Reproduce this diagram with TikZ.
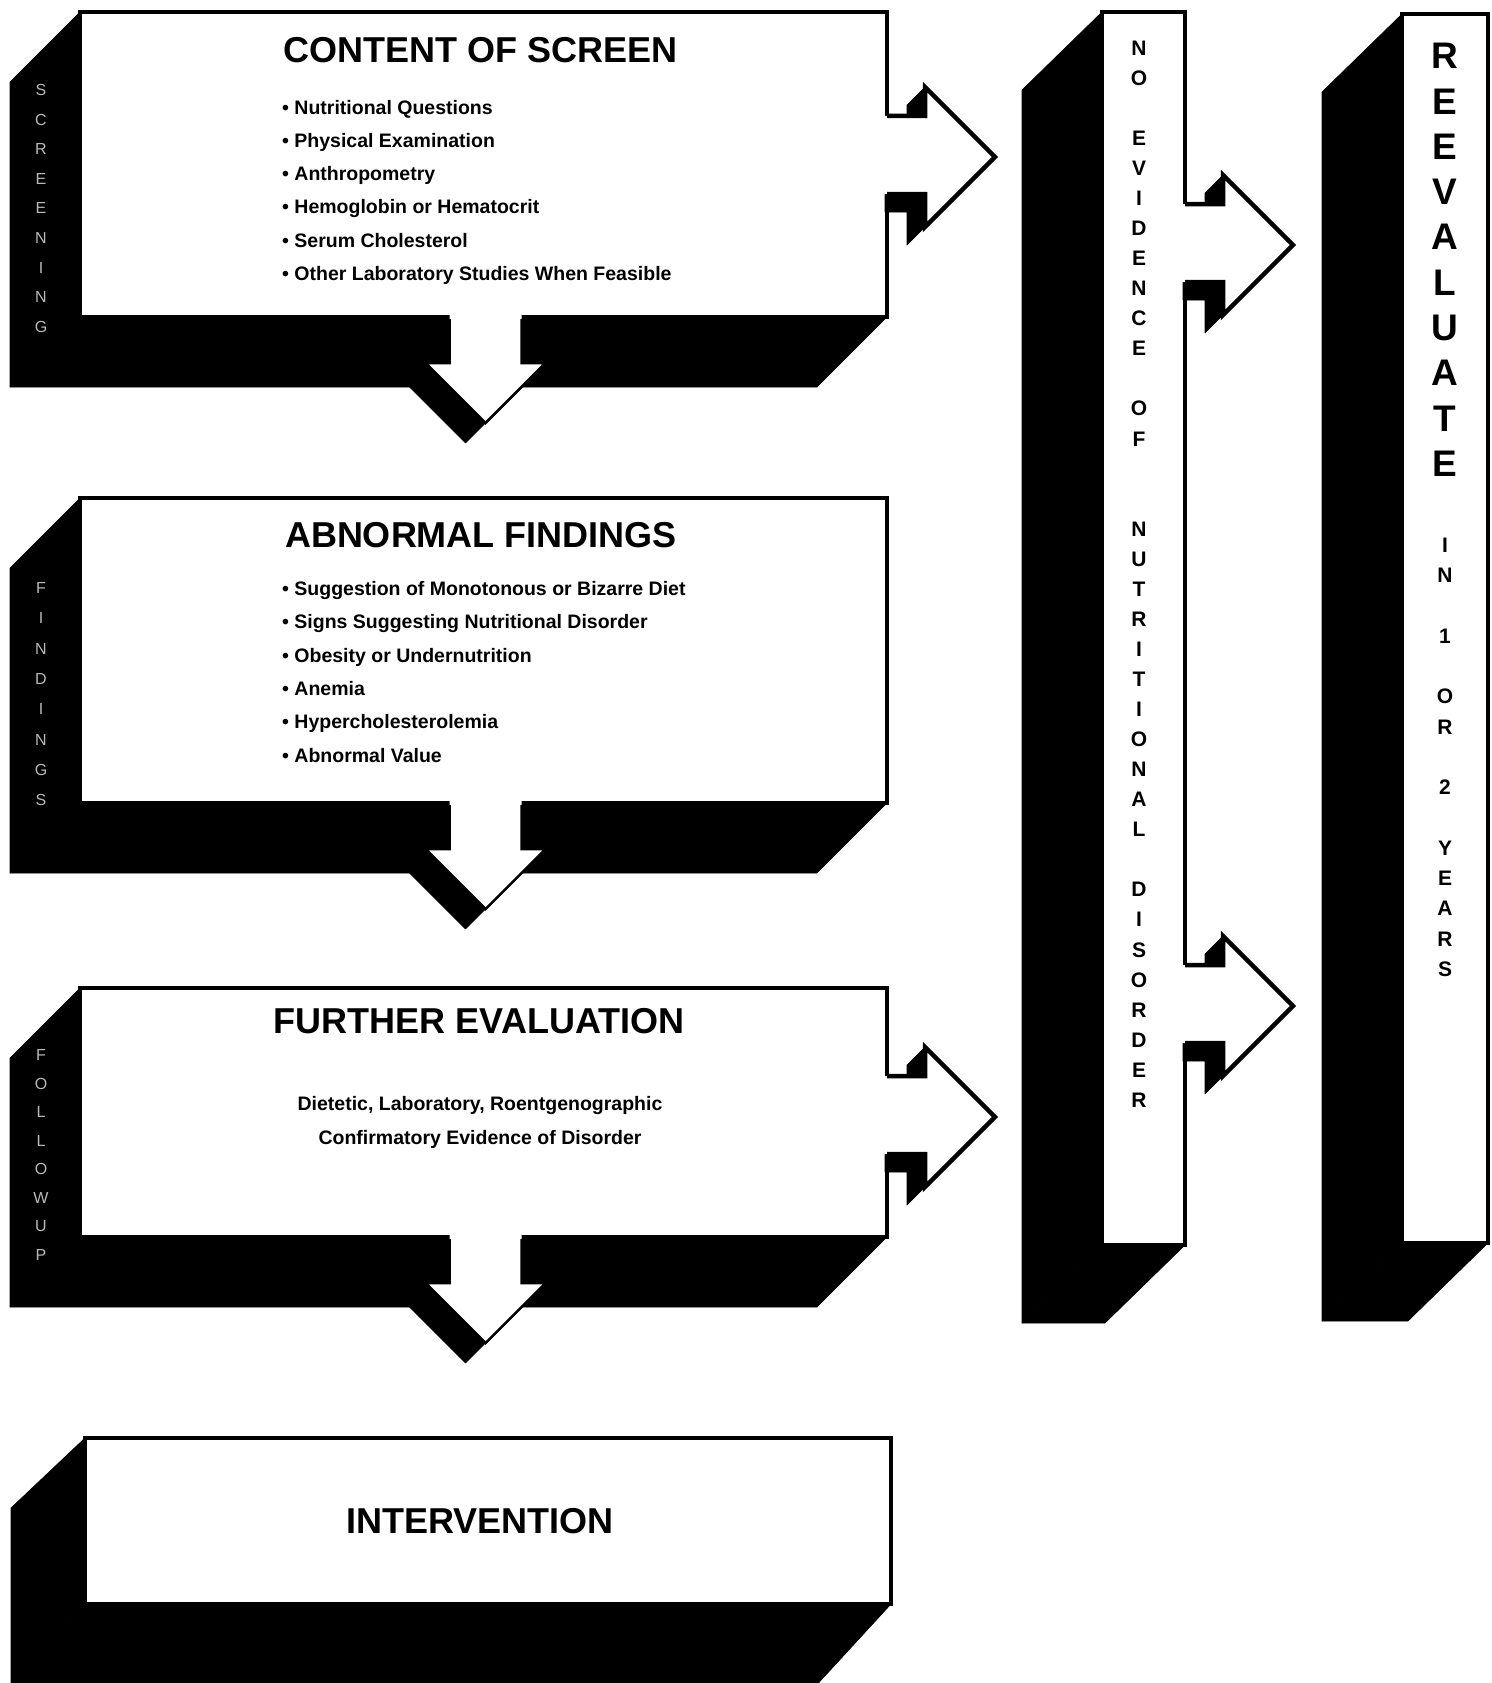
\documentclass[tikz,border=0pt]{standalone}
\usepackage{fontspec}
\setmainfont{Liberation Sans}
\usetikzlibrary{calc}
\newcommand\extrudebox[3]{%
  \fill[blk] (#1.north west) -- ++(#2,#3) -- ($(#1.south west)+(#2,#3)$) -- (#1.south west) -- cycle;
  \fill[blk] (#1.south west) -- (#1.south east) -- ($(#1.south east)+(#2,#3)$) -- ($(#1.south west)+(#2,#3)$) -- cycle;}
\newcommand\dnarrow[1]{%
  \begin{scope}[shift={(#1)}]
    \fill[blk] (-60,46) -- (0,106) -- (-20,126) -- (-80,66) -- cycle;
    \fill[blk] (-60,46) -- (-36,46) -- (-56,66) -- (-80,66) -- cycle;
    \fill[white] (-36,-5) -- (-36,46) -- (-60,46) -- (0,106) -- (60,46) -- (36,46) -- (36,-5) -- cycle;
    \draw[arrline,line width=2.5pt] (-36,2) -- (-36,46) -- (-60,46) -- (0,106) -- (60,46) -- (36,46) -- (36,2);
  \end{scope}}
\newcommand\rtarrow[1]{%
  \begin{scope}[shift={(#1)}]
    \fill[blk] (38,-70) -- (38,-41) -- (20,-41) -- (20,-52) -- cycle;
    \fill[blk] (-2,37) -- (38,37) -- (38,70) -- (20,88) -- (20,55) -- (-2,55) -- cycle;
    \fill[white] (-5,-41) -- (38,-41) -- (38,-70) -- (108,0) -- (38,70) -- (38,37) -- (-5,37) -- cycle;
    \draw[arrline] (0,-41) -- (38,-41) -- (38,-70) -- (108,0) -- (38,70) -- (38,37) -- (0,37);
  \end{scope}}
\begin{document}
\begin{tikzpicture}[x=1pt,y=-1pt,
  blk/.style={fill=black,draw=black,line width=0.6pt,line join=round},
  frontbox/.style={rectangle,draw=black,fill=white,line width=3.5pt,inner sep=0pt,outer sep=0pt,anchor=north west},
  arrline/.style={draw=black,line width=4.5pt,line join=miter,line cap=butt},
  title/.style={font=\fontsize{36}{40}\selectfont\bfseries,inner sep=0pt},
  item/.style={anchor=base west,font=\fontsize{19.5}{22}\selectfont\bfseries,inner sep=0pt},
  line/.style={anchor=base,font=\fontsize{19.5}{22}\selectfont\bfseries,inner sep=0pt},
  sidelbl/.style={text=gray!55,font=\fontsize{16}{18}\selectfont,inner sep=0pt},
  colsm/.style={font=\fontsize{21}{24}\selectfont\bfseries,inner sep=0pt},
  colbig/.style={font=\fontsize{37}{40}\selectfont\bfseries,inner sep=0pt}]
\fill[white] (0,0) rectangle (1491,1683);
\useasboundingbox (0,0) rectangle (1491,1683);

% front faces
\node[frontbox,minimum width=807pt,minimum height=305pt] (b1) at (80,12) {};
\node[frontbox,minimum width=807pt,minimum height=305pt] (b2) at (80,498) {};
\node[frontbox,minimum width=807pt,minimum height=249pt] (b3) at (80,988) {};
\node[frontbox,minimum width=806pt,minimum height=166pt] (b4) at (85,1438) {};
\node[frontbox,minimum width=83pt,minimum height=1233pt] (c1) at (1102,12) {};
\node[frontbox,minimum width=86pt,minimum height=1229pt] (c2) at (1402,14) {};

% extruded black faces
\extrudebox{b1}{-70}{70}
\extrudebox{b2}{-70}{70}
\extrudebox{b3}{-70}{70}
\fill[blk] (b4.north west) -- (11,1508) -- (11,1690) -- (b4.south west) -- cycle;
\fill[blk] (b4.south west) -- (b4.south east) -- (812,1690) -- (11,1690) -- cycle;
\extrudebox{c1}{-80}{78}
\extrudebox{c2}{-80}{78}

% 3D arrows
\coordinate (d1) at ($(b1.south)+(2,0)$);
\coordinate (d2) at ($(b2.south)+(2,0)$);
\coordinate (d3) at ($(b3.south)+(2,0)$);
\dnarrow{d1}
\dnarrow{d2}
\dnarrow{d3}
\coordinate (r1) at ($(b1.north east)+(0,145)$);
\coordinate (r3) at ($(b3.north east)+(0,129)$);
\coordinate (r4) at ($(c1.north east)+(0,233)$);
\coordinate (r5) at ($(c1.north east)+(0,994)$);
\rtarrow{r1}
\rtarrow{r3}
\rtarrow{r4}
\rtarrow{r5}

% box texts
\node[title] (t1) at (481,50) {CONTENT OF SCREEN};
\node[item] (i11) at (282,114) {\textbullet\ Nutritional Questions};
\node[item] (i12) at (282,147) {\textbullet\ Physical Examination};
\node[item] (i13) at (282,180) {\textbullet\ Anthropometry};
\node[item] (i14) at (282,213) {\textbullet\ Hemoglobin or Hematocrit};
\node[item] (i15) at (282,247) {\textbullet\ Serum Cholesterol};
\node[item] (i16) at (282,280) {\textbullet\ Other Laboratory Studies When Feasible};

\node[title] (t2) at (481,535) {ABNORMAL FINDINGS};
\node[item] (i21) at (282,595) {\textbullet\ Suggestion of Monotonous or Bizarre Diet};
\node[item] (i22) at (282,628) {\textbullet\ Signs Suggesting Nutritional Disorder};
\node[item] (i23) at (282,662) {\textbullet\ Obesity or Undernutrition};
\node[item] (i24) at (282,695) {\textbullet\ Anemia};
\node[item] (i25) at (282,728) {\textbullet\ Hypercholesterolemia};
\node[item] (i26) at (282,762) {\textbullet\ Abnormal Value};

\node[title] (t3) at (479,1021) {FURTHER EVALUATION};
\node[line] (l31) at (480,1110) {Dietetic, Laboratory, Roentgenographic};
\node[line] (l32) at (480,1144) {Confirmatory Evidence of Disorder};

\node[title] (t4) at (480,1521) {INTERVENTION};

% side labels
\foreach \ch [count=\s from 0] in {S,C,R,E,E,N,I,N,G}
  \node[sidelbl] (sa\s) at (41,{90+\s*29.6}) {\ch};
\foreach \ch [count=\s from 0] in {F,I,N,D,I,N,G,S}
  \node[sidelbl] (sb\s) at (41,{588+\s*30.3}) {\ch};
\foreach \ch [count=\s from 0] in {F,O,L,L,O,W,U,P}
  \node[sidelbl] (sc\s) at (41,{1055+\s*28.5}) {\ch};

% column texts
\foreach \ch/\s in {N/0,O/1,E/3,V/4,I/5,D/6,E/7,N/8,C/9,E/10,O/12,F/13,N/16,U/17,T/18,R/19,I/20,T/21,I/22,O/23,N/24,A/25,L/26,D/28,I/29,S/30,O/31,R/32,D/33,E/34,R/35}
  \node[colsm] (na\s) at (1139,{48+\s*30.06}) {\ch};
\foreach \ch/\s in {R/0,E/1,E/2,V/3,A/4,L/5,U/6,A/7,T/8,E/9}
  \node[colbig] (rb\s) at (1445,{56+\s*45.3}) {\ch};
\foreach \ch/\s in {I/0,N/1,1/3,O/5,R/6,2/8,Y/10,E/11,A/12,R/13,S/14}
  \node[colsm] (rs\s) at (1445,{545+\s*30.3}) {\ch};
\end{tikzpicture}
\end{document}
